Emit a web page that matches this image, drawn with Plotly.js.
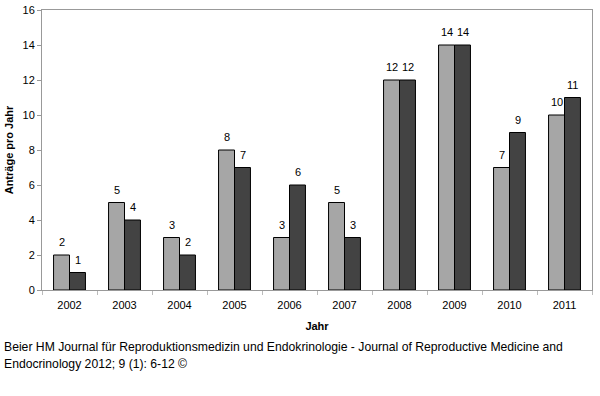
<!DOCTYPE html>
<html><head><meta charset="utf-8">
<script src="https://cdn.plot.ly/plotly-3.0.1.min.js"></script>
<style>body{margin:0;background:#fff}#c{width:600px;height:396px}</style>
</head><body><div id="c"></div>
<script>
const years = ['2002','2003','2004','2005','2006','2007','2008','2009','2010','2011'];
const seriesA = [2,5,3,8,3,5,12,14,7,10];
const seriesB = [1,4,2,7,6,3,12,14,9,11];
const colorA = '#a6a6a6';
const colorB = '#434343';
const footer1 = 'Beier HM Journal für Reproduktionsmedizin und Endokrinologie - Journal of Reproductive Medicine and';
const footer2 = 'Endocrinology 2012; 9 (1): 6-12 ©';

const font = {family: 'Arial, Liberation Sans, sans-serif', size: 11, color: '#000'};
const mk = (y, c) => ({
  type: 'bar', x: years, y: y,
  marker: {color: c, line: {color: '#000', width: 1}}, hoverinfo: 'none'
});
const data = [mk(seriesA, colorA), mk(seriesB, colorB)];
const labels = [];
[[seriesA, -8], [seriesB, 8]].forEach(([s, dx]) => {
  s.forEach((v, i) => labels.push({
    x: i, y: v, xref: 'x', yref: 'y', text: String(v), showarrow: false,
    xshift: dx, yshift: 13, font: {size: 11, color: '#000'}
  }));
});
const layout = {
  width: 600, height: 396, margin: {l: 42, r: 8, t: 10, b: 106},
  paper_bgcolor: '#fff', plot_bgcolor: '#fff', showlegend: false,
  barmode: 'group', bargap: 0.42, bargroupgap: 0,
  font: font,
  xaxis: {type: 'category', categoryarray: years, range: [-0.5, years.length - 0.5],
    showline: true, mirror: true, linecolor: '#999', linewidth: 1,
    ticks: 'outside', tickson: 'boundaries', ticklen: 4, tickcolor: '#bbb', showgrid: false, tickfont: {size: 11},
    tickangle: 0, ticklabelstandoff: 5,
    title: {text: '<b>Jahr</b>', font: {size: 11}, standoff: 12}},
  yaxis: {range: [0, 16], dtick: 2, showline: true, mirror: true, linecolor: '#999', linewidth: 1,
    ticks: 'outside', ticklen: 4, tickcolor: '#999', showgrid: false, zeroline: false,
    tickfont: {size: 11},
    title: {text: '<b>Anträge pro Jahr</b>', font: {size: 11}, standoff: 6}},
  annotations: labels.concat([
    {text: footer1, xref: 'paper', yref: 'paper', x: -0.072, y: -0.172, xanchor: 'left', yanchor: 'top', showarrow: false, font: {size: 12.2, color: '#000'}},
    {text: footer2, xref: 'paper', yref: 'paper', x: -0.072, y: -0.233, xanchor: 'left', yanchor: 'top', showarrow: false, font: {size: 12.2, color: '#000'}}
  ])
};
Plotly.newPlot('c', data, layout, {displayModeBar: false, staticPlot: true});
</script></body></html>
